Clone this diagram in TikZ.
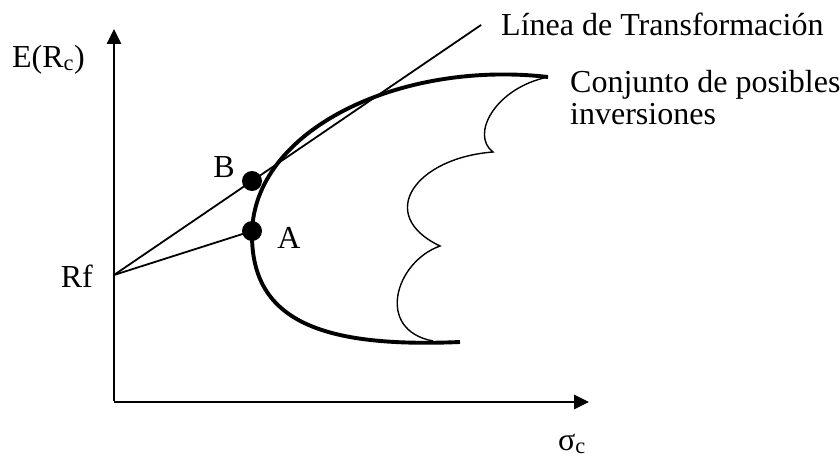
\documentclass[tikz,border=0pt]{standalone}
\usepackage{fontspec}
\setmainfont{Liberation Serif}
\usetikzlibrary{arrows.meta, calc}

\tikzset{
  axis/.style={line width=2.6pt, -{Triangle[length=15pt, width=14pt]}},
  ray/.style={line width=1.8pt},
  frontier/.style={line width=3.9pt},
  scallop/.style={line width=1.4pt},
  dot/.style={circle, fill=black, inner sep=0pt, minimum size=20pt},
  lbl/.style={inner sep=0pt, font=\fontsize{32}{32}\selectfont},
}

\begin{document}
\begin{tikzpicture}[x=1pt, y=-1pt]
  \useasboundingbox (0,0) rectangle (840,460);
  \coordinate (O) at (114,402);
  \coordinate (ytop) at (114,29);
  \coordinate (xend) at (589,402);
  \coordinate (rf) at (114,275);
  \coordinate (pA) at (252,231);
  \coordinate (pB) at (252,181);
  \coordinate (lend) at ($(rf)!2.66!(pB)$);
  \draw[axis] ([yshift=1.3pt]O) -- (ytop);
  \draw[axis] (O) -- (xend);
  \node[lbl, anchor=base east] (ylab) at (85,67) {E(R\textsubscript{c})};
  \node[lbl, anchor=base west] (xlab) at (558,450) {σ\textsubscript{c}};
  \node[lbl, anchor=base east] (rflab) at (93,287) {Rf};
  % set of portfolios
  \draw[frontier] (548,77) .. controls (400,60) and (252,130) .. (252,235)
    .. controls (252,320) and (320,348) .. (460,342);
  \draw[scallop] (548,77) .. controls (495,88) and (470,135) .. (493,152)
    .. controls (415,158) and (375,215) .. (440,246)
    .. controls (395,262) and (375,330) .. (433,341);
  % lines from Rf
  \draw[ray] (rf) -- (pA);
  \draw[ray] (rf) -- (lend);
  \node[dot] (A) at (pA) {};
  \node[dot] (B) at (pB) {};
  \node[lbl, anchor=base] (alab) at (289,248) {A};
  \node[lbl, anchor=base] (blab) at (224,177) {B};
  \node[lbl, anchor=base west] (linelab) at (501,36) {Línea de Transformación};
  \node[lbl, anchor=north west, align=left] (setlab) at (570,70) {Conjunto de posibles\\inversiones};
\end{tikzpicture}
\end{document}
